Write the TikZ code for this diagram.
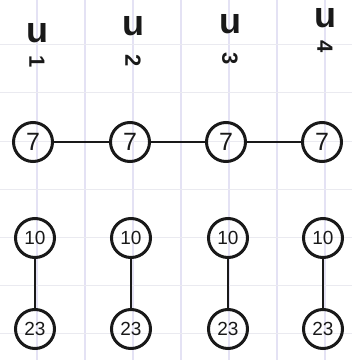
\documentclass[tikz,border=0pt]{standalone}
\usepackage{fontspec}
\setmainfont{Liberation Sans}
\definecolor{gridv}{RGB}{228,226,244}
\definecolor{gridh}{RGB}{234,234,240}
\definecolor{ink}{RGB}{25,25,25}
\begin{document}
\begin{tikzpicture}[x=1pt,y=-1pt,
  vnode/.style={circle,draw=ink,line width=3pt,minimum size=39pt,inner sep=0pt,text=ink},
  seven/.style={vnode,font=\fontsize{25}{25}\selectfont},
  small/.style={vnode,font=\fontsize{19}{19}\selectfont},
  edge/.style={draw=ink,line width=2.6pt},
  ulab/.style={text=ink,inner sep=0pt,font=\bfseries\fontsize{36}{36}\selectfont},
  sublab/.style={text=ink,inner sep=0pt,rotate=-90,font=\bfseries\fontsize{22}{22}\selectfont}]
\useasboundingbox (0,0) rectangle (352,360);
\fill[white] (0,0) rectangle (352,360);
% grid paper
\foreach \gx in {37,85,133,181,229,277,325}
  \draw[gridv,line width=1.2pt] (\gx,0) -- (\gx,360);
\foreach \gy in {44,92,141,189,237,285,333}
  \draw[gridh,line width=1pt] (0,\gy) -- (352,\gy);
% labels
\node[ulab] (u1) at (37,33) {u};
\node[sublab] (s1) at (37,62) {1};
\node[ulab] (u2) at (133,26) {u};
\node[sublab] (s2) at (133,61) {2};
\node[ulab] (u3) at (230,24) {u};
\node[sublab] (s3) at (230,59) {3};
\node[ulab] (u4) at (325,18) {u};
\node[sublab] (s4) at (325,47) {4};
% top row
\node[seven] (a1) at (33,142) {7};
\node[seven] (a2) at (130,142) {7};
\node[seven] (a3) at (226,142) {7};
\node[seven] (a4) at (322,142) {7};
\draw[edge] (a1) -- (a2);
\draw[edge] (a2) -- (a3);
\draw[edge] (a3) -- (a4);
% pairs
\node[small] (b1) at (35,238) {10};
\node[small] (b2) at (131,238) {10};
\node[small] (b3) at (228,238) {10};
\node[small] (b4) at (323,238) {10};
\node[small] (c1) at (35,329) {23};
\node[small] (c2) at (131,329) {23};
\node[small] (c3) at (228,329) {23};
\node[small] (c4) at (323,329) {23};
\draw[edge] (b1) -- (c1);
\draw[edge] (b2) -- (c2);
\draw[edge] (b3) -- (c3);
\draw[edge] (b4) -- (c4);
\end{tikzpicture}
\end{document}
